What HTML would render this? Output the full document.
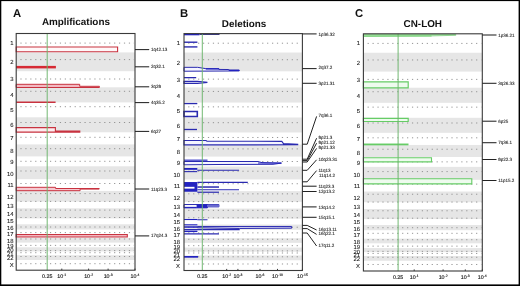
<!DOCTYPE html>
<html><head><meta charset="utf-8"><style>
html,body{margin:0;padding:0;background:#fff;width:520px;height:286px;overflow:hidden}
svg{display:block;will-change:transform}
</style></head><body>
<svg width="520" height="286" viewBox="0 0 520 286" text-rendering="geometricPrecision" font-family='"Liberation Sans", sans-serif'>
<rect width="520" height="286" fill="#fff"/>
<rect x="16.2" y="52.40" width="118.8" height="18.80" fill="#e6e6e6"/>
<rect x="16.2" y="87.30" width="118.8" height="15.10" fill="#e6e6e6"/>
<rect x="16.2" y="117.30" width="118.8" height="15.00" fill="#e6e6e6"/>
<rect x="16.2" y="144.40" width="118.8" height="12.00" fill="#e6e6e6"/>
<rect x="16.2" y="166.30" width="118.8" height="12.90" fill="#e6e6e6"/>
<rect x="16.2" y="190.90" width="118.8" height="10.70" fill="#e6e6e6"/>
<rect x="16.2" y="208.30" width="118.8" height="10.10" fill="#e6e6e6"/>
<rect x="16.2" y="224.30" width="118.8" height="5.20" fill="#e6e6e6"/>
<rect x="16.2" y="237.90" width="118.8" height="4.70" fill="#e6e6e6"/>
<rect x="16.2" y="247.30" width="118.8" height="4.10" fill="#e6e6e6"/>
<rect x="16.2" y="255.20" width="118.8" height="4.80" fill="#e6e6e6"/>
<line x1="20.4" y1="43.10" x2="134.0" y2="43.10" stroke="#8a8a8a" stroke-width="0.9" stroke-dasharray="1.2 3.73"/>
<line x1="20.4" y1="59.60" x2="134.0" y2="59.60" stroke="#8a8a8a" stroke-width="0.9" stroke-dasharray="1.2 3.73"/>
<line x1="20.4" y1="79.00" x2="134.0" y2="79.00" stroke="#8a8a8a" stroke-width="0.9" stroke-dasharray="1.2 3.73"/>
<line x1="20.4" y1="91.30" x2="134.0" y2="91.30" stroke="#8a8a8a" stroke-width="0.9" stroke-dasharray="1.2 3.73"/>
<line x1="20.4" y1="106.70" x2="134.0" y2="106.70" stroke="#8a8a8a" stroke-width="0.9" stroke-dasharray="1.2 3.73"/>
<line x1="20.4" y1="122.50" x2="134.0" y2="122.50" stroke="#8a8a8a" stroke-width="0.9" stroke-dasharray="1.2 3.73"/>
<line x1="20.4" y1="137.30" x2="134.0" y2="137.30" stroke="#8a8a8a" stroke-width="0.9" stroke-dasharray="1.2 3.73"/>
<line x1="20.4" y1="148.70" x2="134.0" y2="148.70" stroke="#8a8a8a" stroke-width="0.9" stroke-dasharray="1.2 3.73"/>
<line x1="20.4" y1="161.30" x2="134.0" y2="161.30" stroke="#8a8a8a" stroke-width="0.9" stroke-dasharray="1.2 3.73"/>
<line x1="20.4" y1="171.00" x2="134.0" y2="171.00" stroke="#8a8a8a" stroke-width="0.9" stroke-dasharray="1.2 3.73"/>
<line x1="20.4" y1="183.50" x2="134.0" y2="183.50" stroke="#8a8a8a" stroke-width="0.9" stroke-dasharray="1.2 3.73"/>
<line x1="20.4" y1="193.60" x2="134.0" y2="193.60" stroke="#8a8a8a" stroke-width="0.9" stroke-dasharray="1.2 3.73"/>
<line x1="20.4" y1="201.40" x2="134.0" y2="201.40" stroke="#8a8a8a" stroke-width="0.9" stroke-dasharray="1.2 3.73"/>
<line x1="20.4" y1="210.10" x2="134.0" y2="210.10" stroke="#8a8a8a" stroke-width="0.9" stroke-dasharray="1.2 3.73"/>
<line x1="20.4" y1="217.50" x2="134.0" y2="217.50" stroke="#8a8a8a" stroke-width="0.9" stroke-dasharray="1.2 3.73"/>
<line x1="20.4" y1="227.00" x2="134.0" y2="227.00" stroke="#8a8a8a" stroke-width="0.9" stroke-dasharray="1.2 3.73"/>
<line x1="20.4" y1="232.60" x2="134.0" y2="232.60" stroke="#8a8a8a" stroke-width="0.9" stroke-dasharray="1.2 3.73"/>
<line x1="20.4" y1="239.00" x2="134.0" y2="239.00" stroke="#8a8a8a" stroke-width="0.9" stroke-dasharray="1.2 3.73"/>
<line x1="20.4" y1="245.40" x2="134.0" y2="245.40" stroke="#8a8a8a" stroke-width="0.9" stroke-dasharray="1.2 3.73"/>
<line x1="20.4" y1="250.60" x2="134.0" y2="250.60" stroke="#8a8a8a" stroke-width="0.9" stroke-dasharray="1.2 3.73"/>
<line x1="20.4" y1="252.70" x2="134.0" y2="252.70" stroke="#8a8a8a" stroke-width="0.9" stroke-dasharray="1.2 3.73"/>
<line x1="20.4" y1="256.50" x2="134.0" y2="256.50" stroke="#8a8a8a" stroke-width="0.9" stroke-dasharray="1.2 3.73"/>
<line x1="20.4" y1="263.70" x2="134.0" y2="263.70" stroke="#8a8a8a" stroke-width="0.9" stroke-dasharray="1.2 3.73"/>
<text x="13.6" y="44.50" text-anchor="end" font-size="5.9" fill="#151515" stroke="#151515" stroke-width="0.08">1</text>
<text x="13.6" y="63.70" text-anchor="end" font-size="5.9" fill="#151515" stroke="#151515" stroke-width="0.08">2</text>
<text x="13.6" y="81.10" text-anchor="end" font-size="5.9" fill="#151515" stroke="#151515" stroke-width="0.08">3</text>
<text x="13.6" y="97.10" text-anchor="end" font-size="5.9" fill="#151515" stroke="#151515" stroke-width="0.08">4</text>
<text x="13.6" y="111.90" text-anchor="end" font-size="5.9" fill="#151515" stroke="#151515" stroke-width="0.08">5</text>
<text x="13.6" y="127.10" text-anchor="end" font-size="5.9" fill="#151515" stroke="#151515" stroke-width="0.08">6</text>
<text x="13.6" y="140.20" text-anchor="end" font-size="5.9" fill="#151515" stroke="#151515" stroke-width="0.08">7</text>
<text x="13.6" y="153.40" text-anchor="end" font-size="5.9" fill="#151515" stroke="#151515" stroke-width="0.08">8</text>
<text x="13.6" y="164.20" text-anchor="end" font-size="5.9" fill="#151515" stroke="#151515" stroke-width="0.08">9</text>
<text x="13.6" y="175.60" text-anchor="end" font-size="5.9" fill="#151515" stroke="#151515" stroke-width="0.08">10</text>
<text x="13.6" y="186.80" text-anchor="end" font-size="5.9" fill="#151515" stroke="#151515" stroke-width="0.08">11</text>
<text x="13.6" y="198.70" text-anchor="end" font-size="5.9" fill="#151515" stroke="#151515" stroke-width="0.08">12</text>
<text x="13.6" y="208.00" text-anchor="end" font-size="5.9" fill="#151515" stroke="#151515" stroke-width="0.08">13</text>
<text x="13.6" y="215.70" text-anchor="end" font-size="5.9" fill="#151515" stroke="#151515" stroke-width="0.08">14</text>
<text x="13.6" y="222.90" text-anchor="end" font-size="5.9" fill="#151515" stroke="#151515" stroke-width="0.08">15</text>
<text x="13.6" y="229.70" text-anchor="end" font-size="5.9" fill="#151515" stroke="#151515" stroke-width="0.08">16</text>
<text x="13.6" y="236.00" text-anchor="end" font-size="5.9" fill="#151515" stroke="#151515" stroke-width="0.08">17</text>
<text x="13.6" y="242.70" text-anchor="end" font-size="5.9" fill="#151515" stroke="#151515" stroke-width="0.08">18</text>
<text x="13.6" y="247.80" text-anchor="end" font-size="5.9" fill="#151515" stroke="#151515" stroke-width="0.08">19</text>
<text x="13.6" y="252.20" text-anchor="end" font-size="5.9" fill="#151515" stroke="#151515" stroke-width="0.08">20</text>
<text x="13.6" y="255.60" text-anchor="end" font-size="5.9" fill="#151515" stroke="#151515" stroke-width="0.08">21</text>
<text x="13.6" y="259.80" text-anchor="end" font-size="5.9" fill="#151515" stroke="#151515" stroke-width="0.08">22</text>
<text x="13.6" y="267.00" text-anchor="end" font-size="5.9" fill="#151515" stroke="#151515" stroke-width="0.08">X</text>
<rect x="184.0" y="52.52" width="118.4" height="18.82" fill="#e6e6e6"/>
<rect x="184.0" y="87.45" width="118.4" height="15.11" fill="#e6e6e6"/>
<rect x="184.0" y="117.47" width="118.4" height="15.01" fill="#e6e6e6"/>
<rect x="184.0" y="144.59" width="118.4" height="12.01" fill="#e6e6e6"/>
<rect x="184.0" y="166.51" width="118.4" height="12.91" fill="#e6e6e6"/>
<rect x="184.0" y="191.13" width="118.4" height="10.71" fill="#e6e6e6"/>
<rect x="184.0" y="208.55" width="118.4" height="10.11" fill="#e6e6e6"/>
<rect x="184.0" y="224.56" width="118.4" height="5.20" fill="#e6e6e6"/>
<rect x="184.0" y="238.17" width="118.4" height="4.70" fill="#e6e6e6"/>
<rect x="184.0" y="247.58" width="118.4" height="4.10" fill="#e6e6e6"/>
<rect x="184.0" y="255.49" width="118.4" height="4.80" fill="#e6e6e6"/>
<line x1="188.2" y1="43.21" x2="301.4" y2="43.21" stroke="#8a8a8a" stroke-width="0.9" stroke-dasharray="1.2 3.73"/>
<line x1="188.2" y1="59.72" x2="301.4" y2="59.72" stroke="#8a8a8a" stroke-width="0.9" stroke-dasharray="1.2 3.73"/>
<line x1="188.2" y1="79.14" x2="301.4" y2="79.14" stroke="#8a8a8a" stroke-width="0.9" stroke-dasharray="1.2 3.73"/>
<line x1="188.2" y1="91.45" x2="301.4" y2="91.45" stroke="#8a8a8a" stroke-width="0.9" stroke-dasharray="1.2 3.73"/>
<line x1="188.2" y1="106.86" x2="301.4" y2="106.86" stroke="#8a8a8a" stroke-width="0.9" stroke-dasharray="1.2 3.73"/>
<line x1="188.2" y1="122.68" x2="301.4" y2="122.68" stroke="#8a8a8a" stroke-width="0.9" stroke-dasharray="1.2 3.73"/>
<line x1="188.2" y1="137.49" x2="301.4" y2="137.49" stroke="#8a8a8a" stroke-width="0.9" stroke-dasharray="1.2 3.73"/>
<line x1="188.2" y1="148.90" x2="301.4" y2="148.90" stroke="#8a8a8a" stroke-width="0.9" stroke-dasharray="1.2 3.73"/>
<line x1="188.2" y1="161.51" x2="301.4" y2="161.51" stroke="#8a8a8a" stroke-width="0.9" stroke-dasharray="1.2 3.73"/>
<line x1="188.2" y1="171.22" x2="301.4" y2="171.22" stroke="#8a8a8a" stroke-width="0.9" stroke-dasharray="1.2 3.73"/>
<line x1="188.2" y1="183.73" x2="301.4" y2="183.73" stroke="#8a8a8a" stroke-width="0.9" stroke-dasharray="1.2 3.73"/>
<line x1="188.2" y1="193.84" x2="301.4" y2="193.84" stroke="#8a8a8a" stroke-width="0.9" stroke-dasharray="1.2 3.73"/>
<line x1="188.2" y1="201.64" x2="301.4" y2="201.64" stroke="#8a8a8a" stroke-width="0.9" stroke-dasharray="1.2 3.73"/>
<line x1="188.2" y1="210.35" x2="301.4" y2="210.35" stroke="#8a8a8a" stroke-width="0.9" stroke-dasharray="1.2 3.73"/>
<line x1="188.2" y1="217.76" x2="301.4" y2="217.76" stroke="#8a8a8a" stroke-width="0.9" stroke-dasharray="1.2 3.73"/>
<line x1="188.2" y1="227.26" x2="301.4" y2="227.26" stroke="#8a8a8a" stroke-width="0.9" stroke-dasharray="1.2 3.73"/>
<line x1="188.2" y1="232.87" x2="301.4" y2="232.87" stroke="#8a8a8a" stroke-width="0.9" stroke-dasharray="1.2 3.73"/>
<line x1="188.2" y1="239.27" x2="301.4" y2="239.27" stroke="#8a8a8a" stroke-width="0.9" stroke-dasharray="1.2 3.73"/>
<line x1="188.2" y1="245.68" x2="301.4" y2="245.68" stroke="#8a8a8a" stroke-width="0.9" stroke-dasharray="1.2 3.73"/>
<line x1="188.2" y1="250.88" x2="301.4" y2="250.88" stroke="#8a8a8a" stroke-width="0.9" stroke-dasharray="1.2 3.73"/>
<line x1="188.2" y1="252.99" x2="301.4" y2="252.99" stroke="#8a8a8a" stroke-width="0.9" stroke-dasharray="1.2 3.73"/>
<line x1="188.2" y1="256.79" x2="301.4" y2="256.79" stroke="#8a8a8a" stroke-width="0.9" stroke-dasharray="1.2 3.73"/>
<line x1="188.2" y1="263.99" x2="301.4" y2="263.99" stroke="#8a8a8a" stroke-width="0.9" stroke-dasharray="1.2 3.73"/>
<text x="180.0" y="45.41" text-anchor="end" font-size="5.9" fill="#151515" stroke="#151515" stroke-width="0.08">1</text>
<text x="180.0" y="64.62" text-anchor="end" font-size="5.9" fill="#151515" stroke="#151515" stroke-width="0.08">2</text>
<text x="180.0" y="82.04" text-anchor="end" font-size="5.9" fill="#151515" stroke="#151515" stroke-width="0.08">3</text>
<text x="180.0" y="98.05" text-anchor="end" font-size="5.9" fill="#151515" stroke="#151515" stroke-width="0.08">4</text>
<text x="180.0" y="112.86" text-anchor="end" font-size="5.9" fill="#151515" stroke="#151515" stroke-width="0.08">5</text>
<text x="180.0" y="128.08" text-anchor="end" font-size="5.9" fill="#151515" stroke="#151515" stroke-width="0.08">6</text>
<text x="180.0" y="141.19" text-anchor="end" font-size="5.9" fill="#151515" stroke="#151515" stroke-width="0.08">7</text>
<text x="180.0" y="154.40" text-anchor="end" font-size="5.9" fill="#151515" stroke="#151515" stroke-width="0.08">8</text>
<text x="180.0" y="165.21" text-anchor="end" font-size="5.9" fill="#151515" stroke="#151515" stroke-width="0.08">9</text>
<text x="180.0" y="176.62" text-anchor="end" font-size="5.9" fill="#151515" stroke="#151515" stroke-width="0.08">10</text>
<text x="180.0" y="187.83" text-anchor="end" font-size="5.9" fill="#151515" stroke="#151515" stroke-width="0.08">11</text>
<text x="180.0" y="199.74" text-anchor="end" font-size="5.9" fill="#151515" stroke="#151515" stroke-width="0.08">12</text>
<text x="180.0" y="209.05" text-anchor="end" font-size="5.9" fill="#151515" stroke="#151515" stroke-width="0.08">13</text>
<text x="180.0" y="216.75" text-anchor="end" font-size="5.9" fill="#151515" stroke="#151515" stroke-width="0.08">14</text>
<text x="180.0" y="223.96" text-anchor="end" font-size="5.9" fill="#151515" stroke="#151515" stroke-width="0.08">15</text>
<text x="180.0" y="230.76" text-anchor="end" font-size="5.9" fill="#151515" stroke="#151515" stroke-width="0.08">16</text>
<text x="180.0" y="237.07" text-anchor="end" font-size="5.9" fill="#151515" stroke="#151515" stroke-width="0.08">17</text>
<text x="180.0" y="243.77" text-anchor="end" font-size="5.9" fill="#151515" stroke="#151515" stroke-width="0.08">18</text>
<text x="180.0" y="248.88" text-anchor="end" font-size="5.9" fill="#151515" stroke="#151515" stroke-width="0.08">19</text>
<text x="180.0" y="253.28" text-anchor="end" font-size="5.9" fill="#151515" stroke="#151515" stroke-width="0.08">20</text>
<text x="180.0" y="256.69" text-anchor="end" font-size="5.9" fill="#151515" stroke="#151515" stroke-width="0.08">21</text>
<text x="180.0" y="260.89" text-anchor="end" font-size="5.9" fill="#151515" stroke="#151515" stroke-width="0.08">22</text>
<text x="180.0" y="268.10" text-anchor="end" font-size="5.9" fill="#151515" stroke="#151515" stroke-width="0.08">X</text>
<rect x="363.4" y="52.74" width="118.9" height="18.84" fill="#e6e6e6"/>
<rect x="363.4" y="87.71" width="118.9" height="15.13" fill="#e6e6e6"/>
<rect x="363.4" y="117.78" width="118.9" height="15.03" fill="#e6e6e6"/>
<rect x="363.4" y="144.93" width="118.9" height="12.03" fill="#e6e6e6"/>
<rect x="363.4" y="166.88" width="118.9" height="12.93" fill="#e6e6e6"/>
<rect x="363.4" y="191.53" width="118.9" height="10.72" fill="#e6e6e6"/>
<rect x="363.4" y="208.97" width="118.9" height="10.12" fill="#e6e6e6"/>
<rect x="363.4" y="225.00" width="118.9" height="5.21" fill="#e6e6e6"/>
<rect x="363.4" y="238.63" width="118.9" height="4.71" fill="#e6e6e6"/>
<rect x="363.4" y="248.05" width="118.9" height="4.11" fill="#e6e6e6"/>
<rect x="363.4" y="255.97" width="118.9" height="4.81" fill="#e6e6e6"/>
<line x1="367.6" y1="43.42" x2="481.3" y2="43.42" stroke="#8a8a8a" stroke-width="0.9" stroke-dasharray="1.2 3.73"/>
<line x1="367.6" y1="59.96" x2="481.3" y2="59.96" stroke="#8a8a8a" stroke-width="0.9" stroke-dasharray="1.2 3.73"/>
<line x1="367.6" y1="79.40" x2="481.3" y2="79.40" stroke="#8a8a8a" stroke-width="0.9" stroke-dasharray="1.2 3.73"/>
<line x1="367.6" y1="91.72" x2="481.3" y2="91.72" stroke="#8a8a8a" stroke-width="0.9" stroke-dasharray="1.2 3.73"/>
<line x1="367.6" y1="107.15" x2="481.3" y2="107.15" stroke="#8a8a8a" stroke-width="0.9" stroke-dasharray="1.2 3.73"/>
<line x1="367.6" y1="122.99" x2="481.3" y2="122.99" stroke="#8a8a8a" stroke-width="0.9" stroke-dasharray="1.2 3.73"/>
<line x1="367.6" y1="137.82" x2="481.3" y2="137.82" stroke="#8a8a8a" stroke-width="0.9" stroke-dasharray="1.2 3.73"/>
<line x1="367.6" y1="149.24" x2="481.3" y2="149.24" stroke="#8a8a8a" stroke-width="0.9" stroke-dasharray="1.2 3.73"/>
<line x1="367.6" y1="161.87" x2="481.3" y2="161.87" stroke="#8a8a8a" stroke-width="0.9" stroke-dasharray="1.2 3.73"/>
<line x1="367.6" y1="171.59" x2="481.3" y2="171.59" stroke="#8a8a8a" stroke-width="0.9" stroke-dasharray="1.2 3.73"/>
<line x1="367.6" y1="184.12" x2="481.3" y2="184.12" stroke="#8a8a8a" stroke-width="0.9" stroke-dasharray="1.2 3.73"/>
<line x1="367.6" y1="194.24" x2="481.3" y2="194.24" stroke="#8a8a8a" stroke-width="0.9" stroke-dasharray="1.2 3.73"/>
<line x1="367.6" y1="202.05" x2="481.3" y2="202.05" stroke="#8a8a8a" stroke-width="0.9" stroke-dasharray="1.2 3.73"/>
<line x1="367.6" y1="210.77" x2="481.3" y2="210.77" stroke="#8a8a8a" stroke-width="0.9" stroke-dasharray="1.2 3.73"/>
<line x1="367.6" y1="218.19" x2="481.3" y2="218.19" stroke="#8a8a8a" stroke-width="0.9" stroke-dasharray="1.2 3.73"/>
<line x1="367.6" y1="227.71" x2="481.3" y2="227.71" stroke="#8a8a8a" stroke-width="0.9" stroke-dasharray="1.2 3.73"/>
<line x1="367.6" y1="233.32" x2="481.3" y2="233.32" stroke="#8a8a8a" stroke-width="0.9" stroke-dasharray="1.2 3.73"/>
<line x1="367.6" y1="239.73" x2="481.3" y2="239.73" stroke="#8a8a8a" stroke-width="0.9" stroke-dasharray="1.2 3.73"/>
<line x1="367.6" y1="246.15" x2="481.3" y2="246.15" stroke="#8a8a8a" stroke-width="0.9" stroke-dasharray="1.2 3.73"/>
<line x1="367.6" y1="251.36" x2="481.3" y2="251.36" stroke="#8a8a8a" stroke-width="0.9" stroke-dasharray="1.2 3.73"/>
<line x1="367.6" y1="253.46" x2="481.3" y2="253.46" stroke="#8a8a8a" stroke-width="0.9" stroke-dasharray="1.2 3.73"/>
<line x1="367.6" y1="257.27" x2="481.3" y2="257.27" stroke="#8a8a8a" stroke-width="0.9" stroke-dasharray="1.2 3.73"/>
<line x1="367.6" y1="264.49" x2="481.3" y2="264.49" stroke="#8a8a8a" stroke-width="0.9" stroke-dasharray="1.2 3.73"/>
<text x="360.0" y="45.42" text-anchor="end" font-size="5.9" fill="#151515" stroke="#151515" stroke-width="0.08">1</text>
<text x="360.0" y="64.66" text-anchor="end" font-size="5.9" fill="#151515" stroke="#151515" stroke-width="0.08">2</text>
<text x="360.0" y="82.10" text-anchor="end" font-size="5.9" fill="#151515" stroke="#151515" stroke-width="0.08">3</text>
<text x="360.0" y="98.13" text-anchor="end" font-size="5.9" fill="#151515" stroke="#151515" stroke-width="0.08">4</text>
<text x="360.0" y="112.96" text-anchor="end" font-size="5.9" fill="#151515" stroke="#151515" stroke-width="0.08">5</text>
<text x="360.0" y="128.19" text-anchor="end" font-size="5.9" fill="#151515" stroke="#151515" stroke-width="0.08">6</text>
<text x="360.0" y="141.32" text-anchor="end" font-size="5.9" fill="#151515" stroke="#151515" stroke-width="0.08">7</text>
<text x="360.0" y="154.55" text-anchor="end" font-size="5.9" fill="#151515" stroke="#151515" stroke-width="0.08">8</text>
<text x="360.0" y="165.37" text-anchor="end" font-size="5.9" fill="#151515" stroke="#151515" stroke-width="0.08">9</text>
<text x="360.0" y="176.80" text-anchor="end" font-size="5.9" fill="#151515" stroke="#151515" stroke-width="0.08">10</text>
<text x="360.0" y="188.02" text-anchor="end" font-size="5.9" fill="#151515" stroke="#151515" stroke-width="0.08">11</text>
<text x="360.0" y="199.94" text-anchor="end" font-size="5.9" fill="#151515" stroke="#151515" stroke-width="0.08">12</text>
<text x="360.0" y="209.26" text-anchor="end" font-size="5.9" fill="#151515" stroke="#151515" stroke-width="0.08">13</text>
<text x="360.0" y="216.98" text-anchor="end" font-size="5.9" fill="#151515" stroke="#151515" stroke-width="0.08">14</text>
<text x="360.0" y="224.20" text-anchor="end" font-size="5.9" fill="#151515" stroke="#151515" stroke-width="0.08">15</text>
<text x="360.0" y="231.01" text-anchor="end" font-size="5.9" fill="#151515" stroke="#151515" stroke-width="0.08">16</text>
<text x="360.0" y="237.32" text-anchor="end" font-size="5.9" fill="#151515" stroke="#151515" stroke-width="0.08">17</text>
<text x="360.0" y="244.04" text-anchor="end" font-size="5.9" fill="#151515" stroke="#151515" stroke-width="0.08">18</text>
<text x="360.0" y="249.15" text-anchor="end" font-size="5.9" fill="#151515" stroke="#151515" stroke-width="0.08">19</text>
<text x="360.0" y="253.56" text-anchor="end" font-size="5.9" fill="#151515" stroke="#151515" stroke-width="0.08">20</text>
<text x="360.0" y="256.96" text-anchor="end" font-size="5.9" fill="#151515" stroke="#151515" stroke-width="0.08">21</text>
<text x="360.0" y="261.17" text-anchor="end" font-size="5.9" fill="#151515" stroke="#151515" stroke-width="0.08">22</text>
<text x="360.0" y="268.39" text-anchor="end" font-size="5.9" fill="#151515" stroke="#151515" stroke-width="0.08">X</text>
<polygon points="16.2,47.00 117.6,47.00 117.6,51.70 16.2,51.70" fill="#fff8f9" stroke="#c8323f" stroke-width="1.1" stroke-linejoin="miter"/>
<rect x="16.2" y="65.90" width="39.7" height="2.50" fill="#d62a34"/>
<polygon points="16.2,84.30 79.7,84.30 79.7,86.30 99.4,86.30 99.4,87.50 16.2,87.50" fill="#f3bac3" stroke="#c8323f" stroke-width="1.0" stroke-linejoin="miter"/>
<line x1="16.2" y1="102.30" x2="55.6" y2="102.30" stroke="#c8323f" stroke-width="1.4"/>
<polygon points="16.2,127.60 55.4,127.60 55.4,131.10 79.8,131.10 79.8,132.10 16.2,132.10" fill="#fcecef" stroke="#c8323f" stroke-width="1.1" stroke-linejoin="miter"/>
<polygon points="16.2,187.30 55.6,187.30 55.6,188.50 99.2,188.50 99.2,189.10 80.1,189.10 80.1,190.70 16.2,190.70" fill="#f6c9d0" stroke="#c8323f" stroke-width="1.0" stroke-linejoin="miter"/>
<polygon points="16.2,234.50 127.3,234.50 127.3,237.00 16.2,237.00" fill="#f3b9c2" stroke="#c8323f" stroke-width="1.1" stroke-linejoin="miter"/>
<rect x="184.0" y="33.70" width="15.5" height="1.60" fill="#2222c0"/>
<line x1="199.5" y1="34.40" x2="219.5" y2="34.40" stroke="#30307a" stroke-width="1.1"/>
<line x1="184.0" y1="42.21" x2="197.4" y2="42.21" stroke="#2a2ab0" stroke-width="1.4"/>
<line x1="184.0" y1="46.91" x2="197.4" y2="46.91" stroke="#2a2ab0" stroke-width="1.4"/>
<polygon points="184.0,67.33 197.7,67.33 205.8,68.63 219.0,68.73 219.0,69.43 228.8,69.53 228.8,70.03 239.2,70.03 239.2,70.93 184.0,71.23" fill="#f4f4ff" stroke="#2a2ab0" stroke-width="1.0" stroke-linejoin="miter"/>
<rect x="205.8" y="68.33" width="13.2" height="1.20" fill="#2222c0"/>
<rect x="228.8" y="69.93" width="10.4" height="1.10" fill="#2222c0"/>
<line x1="184.0" y1="77.64" x2="196.2" y2="77.64" stroke="#2a2ab0" stroke-width="1.3"/>
<polygon points="184.0,81.44 197.4,81.44 207.4,82.34 197.4,83.34 184.0,83.34" fill="#f4f4ff" stroke="#2a2ab0" stroke-width="1.2" stroke-linejoin="miter"/>
<line x1="184.0" y1="103.56" x2="197.3" y2="103.56" stroke="#2a2ab0" stroke-width="1.3"/>
<polygon points="184.0,111.47 197.3,111.47 197.3,116.47 184.0,116.47" fill="#fff" stroke="#2a2ab0" stroke-width="1.6" stroke-linejoin="miter"/>
<line x1="184.0" y1="129.48" x2="197.0" y2="129.48" stroke="#2a2ab0" stroke-width="1.3"/>
<polygon points="184.0,140.49 206.0,140.49 207.0,141.19 281.8,141.39 283.5,143.59 297.7,144.19 297.7,144.79 184.0,144.89" fill="#f4f4ff" stroke="#2a2ab0" stroke-width="1.1" stroke-linejoin="miter"/>
<rect x="184.0" y="159.61" width="23.5" height="1.10" fill="#2222c0"/>
<polygon points="184.0,161.51 258.0,161.51 262.0,162.61 281.4,163.11 273.0,164.31 218.0,164.51 184.0,164.81" fill="#f4f4ff" stroke="#2a2ab0" stroke-width="1.0" stroke-linejoin="miter"/>
<rect x="258.0" y="162.61" width="23.4" height="0.90" fill="#2222c0"/>
<rect x="184.0" y="168.01" width="13.3" height="1.80" fill="#2222c0"/>
<line x1="197.3" y1="170.22" x2="239.1" y2="170.22" stroke="#2a2ab0" stroke-width="1.1"/>
<line x1="184.0" y1="171.62" x2="197.3" y2="171.62" stroke="#2a2ab0" stroke-width="1.1"/>
<rect x="184.0" y="182.03" width="13.4" height="9.71" fill="#2222c0"/>
<rect x="184.0" y="186.83" width="10.5" height="1.80" fill="#fff"/>
<line x1="197.4" y1="182.33" x2="247.8" y2="182.33" stroke="#2a2ab0" stroke-width="1.1"/>
<line x1="197.4" y1="187.03" x2="219.0" y2="187.03" stroke="#2a2ab0" stroke-width="1.5"/>
<line x1="197.4" y1="189.73" x2="239.0" y2="189.73" stroke="#2a2ab0" stroke-width="1.1"/>
<line x1="197.4" y1="192.23" x2="219.0" y2="192.23" stroke="#2a2ab0" stroke-width="1.2"/>
<polygon points="184.0,204.54 218.9,204.54 218.9,206.85 207.4,206.85 207.4,207.85 184.0,207.85" fill="#fff" stroke="#2a2ab0" stroke-width="1.0" stroke-linejoin="miter"/>
<rect x="207.4" y="204.54" width="11.5" height="2.30" fill="#6a6ad0"/>
<rect x="196.6" y="204.24" width="10.8" height="3.70" fill="#2222c0"/>
<rect x="184.0" y="206.85" width="12.6" height="1.20" fill="#2222c0"/>
<rect x="184.0" y="218.96" width="13.4" height="1.10" fill="#2222c0"/>
<line x1="197.4" y1="219.76" x2="207.5" y2="219.76" stroke="#2a2ab0" stroke-width="1.0"/>
<rect x="184.0" y="224.26" width="13.4" height="1.10" fill="#2222c0"/>
<rect x="184.0" y="226.26" width="13.4" height="1.50" fill="#2222c0"/>
<polygon points="197.4,226.46 291.7,226.46 291.7,228.16 239.7,228.46 197.4,227.76" fill="#d8d8f4" stroke="#2a2ab0" stroke-width="1.0" stroke-linejoin="miter"/>
<line x1="184.0" y1="229.67" x2="239.7" y2="229.67" stroke="#2a2ab0" stroke-width="1.1"/>
<rect x="184.0" y="230.67" width="13.4" height="1.40" fill="#2222c0"/>
<line x1="184.0" y1="233.87" x2="219.0" y2="233.87" stroke="#2a2ab0" stroke-width="1.2"/>
<rect x="184.0" y="255.99" width="14.0" height="1.70" fill="#2222c0"/>
<polygon points="363.4,34.50 455.8,34.50 455.8,35.30 431.6,35.90 363.4,36.31" fill="#c8efc8" stroke="#7ccf7c" stroke-width="0.8" stroke-linejoin="miter"/>
<line x1="363.4" y1="36.00" x2="431.6" y2="36.00" stroke="#66cc66" stroke-width="0.9"/>
<polygon points="363.4,81.80 408.2,81.80 408.2,87.81 363.4,87.81" fill="#eefbee" stroke="#66cc66" stroke-width="1.2" stroke-linejoin="miter"/>
<polygon points="363.4,118.28 408.2,118.28 408.2,121.48 363.4,121.48" fill="#eefbee" stroke="#66cc66" stroke-width="1.2" stroke-linejoin="miter"/>
<rect x="363.4" y="143.53" width="45.1" height="1.80" fill="#66cc66"/>
<polygon points="363.4,157.76 431.5,157.76 431.5,161.87 363.4,161.87" fill="#eefbee" stroke="#66cc66" stroke-width="1.1" stroke-linejoin="miter"/>
<polygon points="363.4,178.81 471.8,178.81 471.8,183.92 363.4,183.92" fill="#eefbee" stroke="#66cc66" stroke-width="1.1" stroke-linejoin="miter"/>
<line x1="47.2" y1="33.5" x2="47.2" y2="270.2" stroke="#6cb56c" stroke-width="0.95"/>
<rect x="16.2" y="33.5" width="118.8" height="236.7" fill="none" stroke="#3a3a3a" stroke-width="1.1"/>
<text x="47.2" y="277.9" text-anchor="middle" font-size="5.3" fill="#222" stroke="#222" stroke-width="0.15">0.25</text>
<line x1="61.8" y1="268.6" x2="61.8" y2="270.2" stroke="#3a3a3a" stroke-width="1"/>
<text x="61.8" y="277.9" text-anchor="middle" font-size="5.3" fill="#222" stroke="#222" stroke-width="0.15">10<tspan font-size="3.4" dy="-2.1">-1</tspan></text>
<line x1="88.6" y1="268.6" x2="88.6" y2="270.2" stroke="#3a3a3a" stroke-width="1"/>
<text x="88.6" y="277.9" text-anchor="middle" font-size="5.3" fill="#222" stroke="#222" stroke-width="0.15">10<tspan font-size="3.4" dy="-2.1">-2</tspan></text>
<line x1="108.1" y1="268.6" x2="108.1" y2="270.2" stroke="#3a3a3a" stroke-width="1"/>
<text x="108.1" y="277.9" text-anchor="middle" font-size="5.3" fill="#222" stroke="#222" stroke-width="0.15">10<tspan font-size="3.4" dy="-2.1">-3</tspan></text>
<line x1="135.0" y1="268.6" x2="135.0" y2="270.2" stroke="#3a3a3a" stroke-width="1"/>
<text x="135.0" y="277.9" text-anchor="middle" font-size="5.3" fill="#222" stroke="#222" stroke-width="0.15">10<tspan font-size="3.4" dy="-2.1">-4</tspan></text>
<line x1="202.3" y1="33.6" x2="202.3" y2="270.5" stroke="#6cb56c" stroke-width="0.95"/>
<rect x="184.0" y="33.6" width="118.4" height="236.9" fill="none" stroke="#3a3a3a" stroke-width="1.1"/>
<text x="202.3" y="278.2" text-anchor="middle" font-size="5.3" fill="#222" stroke="#222" stroke-width="0.15">0.25</text>
<line x1="226.7" y1="268.9" x2="226.7" y2="270.5" stroke="#3a3a3a" stroke-width="1"/>
<text x="226.7" y="278.2" text-anchor="middle" font-size="5.3" fill="#222" stroke="#222" stroke-width="0.15">10<tspan font-size="3.4" dy="-2.1">-2</tspan></text>
<line x1="237.9" y1="268.9" x2="237.9" y2="270.5" stroke="#3a3a3a" stroke-width="1"/>
<text x="237.9" y="278.2" text-anchor="middle" font-size="5.3" fill="#222" stroke="#222" stroke-width="0.15">10<tspan font-size="3.4" dy="-2.1">-3</tspan></text>
<line x1="260.0" y1="268.9" x2="260.0" y2="270.5" stroke="#3a3a3a" stroke-width="1"/>
<text x="260.0" y="278.2" text-anchor="middle" font-size="5.3" fill="#222" stroke="#222" stroke-width="0.15">10<tspan font-size="3.4" dy="-2.1">-6</tspan></text>
<line x1="277.5" y1="268.9" x2="277.5" y2="270.5" stroke="#3a3a3a" stroke-width="1"/>
<text x="277.5" y="278.2" text-anchor="middle" font-size="5.3" fill="#222" stroke="#222" stroke-width="0.15">10<tspan font-size="3.4" dy="-2.1">-10</tspan></text>
<line x1="302.4" y1="268.9" x2="302.4" y2="270.5" stroke="#3a3a3a" stroke-width="1"/>
<text x="302.4" y="278.2" text-anchor="middle" font-size="5.3" fill="#222" stroke="#222" stroke-width="0.15">10<tspan font-size="3.4" dy="-2.1">-15</tspan></text>
<line x1="398.1" y1="33.8" x2="398.1" y2="271.0" stroke="#6cb56c" stroke-width="0.95"/>
<rect x="363.4" y="33.8" width="118.9" height="237.2" fill="none" stroke="#3a3a3a" stroke-width="1.1"/>
<text x="398.1" y="278.7" text-anchor="middle" font-size="5.3" fill="#222" stroke="#222" stroke-width="0.15">0.25</text>
<line x1="414.2" y1="269.4" x2="414.2" y2="271.0" stroke="#3a3a3a" stroke-width="1"/>
<text x="414.2" y="278.7" text-anchor="middle" font-size="5.3" fill="#222" stroke="#222" stroke-width="0.15">10<tspan font-size="3.4" dy="-2.1">-1</tspan></text>
<line x1="443.1" y1="269.4" x2="443.1" y2="271.0" stroke="#3a3a3a" stroke-width="1"/>
<text x="443.1" y="278.7" text-anchor="middle" font-size="5.3" fill="#222" stroke="#222" stroke-width="0.15">10<tspan font-size="3.4" dy="-2.1">-2</tspan></text>
<line x1="465.3" y1="269.4" x2="465.3" y2="271.0" stroke="#3a3a3a" stroke-width="1"/>
<text x="465.3" y="278.7" text-anchor="middle" font-size="5.3" fill="#222" stroke="#222" stroke-width="0.15">10<tspan font-size="3.4" dy="-2.1">-3</tspan></text>
<line x1="482.3" y1="269.4" x2="482.3" y2="271.0" stroke="#3a3a3a" stroke-width="1"/>
<text x="482.3" y="278.7" text-anchor="middle" font-size="5.3" fill="#222" stroke="#222" stroke-width="0.15">10<tspan font-size="3.4" dy="-2.1">-4</tspan></text>
<line x1="135.0" y1="49.6" x2="149.2" y2="49.6" stroke="#222" stroke-width="1.05"/>
<text x="151.0" y="51.10" font-size="4.5" fill="#2a2a2a" stroke="#2a2a2a" stroke-width="0.1">1q42.13</text>
<line x1="135.0" y1="66.8" x2="149.2" y2="66.8" stroke="#222" stroke-width="1.05"/>
<text x="151.0" y="68.30" font-size="4.5" fill="#2a2a2a" stroke="#2a2a2a" stroke-width="0.1">2q32.1</text>
<line x1="135.0" y1="86.8" x2="149.2" y2="86.8" stroke="#222" stroke-width="1.05"/>
<text x="151.0" y="88.30" font-size="4.5" fill="#2a2a2a" stroke="#2a2a2a" stroke-width="0.1">3q29</text>
<line x1="135.0" y1="102.6" x2="149.2" y2="102.6" stroke="#222" stroke-width="1.05"/>
<text x="151.0" y="104.10" font-size="4.5" fill="#2a2a2a" stroke="#2a2a2a" stroke-width="0.1">4q35.2</text>
<line x1="135.0" y1="131.4" x2="149.2" y2="131.4" stroke="#222" stroke-width="1.05"/>
<text x="151.0" y="132.90" font-size="4.5" fill="#2a2a2a" stroke="#2a2a2a" stroke-width="0.1">6q27</text>
<line x1="135.0" y1="189.0" x2="149.2" y2="189.0" stroke="#222" stroke-width="1.05"/>
<text x="151.0" y="190.50" font-size="4.5" fill="#2a2a2a" stroke="#2a2a2a" stroke-width="0.1">11q23.3</text>
<line x1="135.0" y1="235.9" x2="149.2" y2="235.9" stroke="#222" stroke-width="1.05"/>
<text x="151.0" y="237.40" font-size="4.5" fill="#2a2a2a" stroke="#2a2a2a" stroke-width="0.1">17q24.3</text>
<line x1="302.4" y1="33.9" x2="316.59999999999997" y2="33.9" stroke="#222" stroke-width="1.05"/>
<text x="318.4" y="36.10" font-size="4.5" fill="#2a2a2a" stroke="#2a2a2a" stroke-width="0.1">1p36.32</text>
<line x1="302.4" y1="68.6" x2="316.59999999999997" y2="68.6" stroke="#222" stroke-width="1.05"/>
<text x="318.4" y="69.10" font-size="4.5" fill="#2a2a2a" stroke="#2a2a2a" stroke-width="0.1">2q37.2</text>
<line x1="302.4" y1="83.3" x2="316.59999999999997" y2="83.3" stroke="#222" stroke-width="1.05"/>
<text x="318.4" y="84.50" font-size="4.5" fill="#2a2a2a" stroke="#2a2a2a" stroke-width="0.1">3p21.31</text>
<polyline points="302.4,144.2 307.2,144.2 316.59999999999997,116.39999999999999" fill="none" stroke="#222" stroke-width="1.0"/>
<text x="318.4" y="117.30" font-size="4.5" fill="#2a2a2a" stroke="#2a2a2a" stroke-width="0.1">7q36.1</text>
<polyline points="302.4,159.2 307.2,159.2 316.59999999999997,138.2" fill="none" stroke="#222" stroke-width="1.0"/>
<text x="318.4" y="139.10" font-size="4.5" fill="#2a2a2a" stroke="#2a2a2a" stroke-width="0.1">9p21.3</text>
<polyline points="302.4,160.6 307.2,160.6 316.59999999999997,143.2" fill="none" stroke="#222" stroke-width="1.0"/>
<text x="318.4" y="144.10" font-size="4.5" fill="#2a2a2a" stroke="#2a2a2a" stroke-width="0.1">9p21.12</text>
<polyline points="302.4,162.0 307.2,162.0 316.59999999999997,148.4" fill="none" stroke="#222" stroke-width="1.0"/>
<text x="318.4" y="149.30" font-size="4.5" fill="#2a2a2a" stroke="#2a2a2a" stroke-width="0.1">9p21.33</text>
<polyline points="302.4,170.3 307.2,170.3 316.59999999999997,159.79999999999998" fill="none" stroke="#222" stroke-width="1.0"/>
<text x="318.4" y="160.70" font-size="4.5" fill="#2a2a2a" stroke="#2a2a2a" stroke-width="0.1">10q23.31</text>
<polyline points="302.4,181.8 307.2,181.8 316.59999999999997,170.6" fill="none" stroke="#222" stroke-width="1.0"/>
<text x="318.4" y="171.50" font-size="4.5" fill="#2a2a2a" stroke="#2a2a2a" stroke-width="0.1">11q13</text>
<text x="319.0" y="177.0" font-size="4.5" fill="#2a2a2a" stroke="#2a2a2a" stroke-width="0.1">11q14.2</text>
<line x1="302.4" y1="186.2" x2="316.59999999999997" y2="186.2" stroke="#222" stroke-width="1.05"/>
<text x="318.4" y="187.70" font-size="4.5" fill="#2a2a2a" stroke="#2a2a2a" stroke-width="0.1">11q23.3</text>
<line x1="302.4" y1="191.5" x2="316.59999999999997" y2="191.5" stroke="#222" stroke-width="1.05"/>
<text x="318.4" y="192.70" font-size="4.5" fill="#2a2a2a" stroke="#2a2a2a" stroke-width="0.1">12p13.2</text>
<line x1="302.4" y1="206.9" x2="316.59999999999997" y2="206.9" stroke="#222" stroke-width="1.05"/>
<text x="318.4" y="208.70" font-size="4.5" fill="#2a2a2a" stroke="#2a2a2a" stroke-width="0.1">13q14.2</text>
<line x1="302.4" y1="217.3" x2="316.59999999999997" y2="217.3" stroke="#222" stroke-width="1.05"/>
<text x="318.4" y="219.30" font-size="4.5" fill="#2a2a2a" stroke="#2a2a2a" stroke-width="0.1">15q15.1</text>
<polyline points="302.4,225.4 307.2,225.4 316.59999999999997,230.0" fill="none" stroke="#222" stroke-width="1.0"/>
<text x="318.4" y="230.90" font-size="4.5" fill="#2a2a2a" stroke="#2a2a2a" stroke-width="0.1">16p13.11</text>
<polyline points="302.4,228.6 307.2,228.6 316.59999999999997,234.4" fill="none" stroke="#222" stroke-width="1.0"/>
<text x="318.4" y="235.30" font-size="4.5" fill="#2a2a2a" stroke="#2a2a2a" stroke-width="0.1">16q22.1</text>
<polyline points="302.4,233.0 307.2,233.0 316.59999999999997,246.0" fill="none" stroke="#222" stroke-width="1.0"/>
<text x="318.4" y="246.90" font-size="4.5" fill="#2a2a2a" stroke="#2a2a2a" stroke-width="0.1">17q11.2</text>
<line x1="482.3" y1="35.0" x2="496.5" y2="35.0" stroke="#222" stroke-width="1.05"/>
<text x="498.3" y="36.50" font-size="4.5" fill="#2a2a2a" stroke="#2a2a2a" stroke-width="0.1">1p36.21</text>
<line x1="482.3" y1="83.3" x2="496.5" y2="83.3" stroke="#222" stroke-width="1.05"/>
<text x="498.3" y="84.80" font-size="4.5" fill="#2a2a2a" stroke="#2a2a2a" stroke-width="0.1">3q26.33</text>
<line x1="482.3" y1="121.2" x2="496.5" y2="121.2" stroke="#222" stroke-width="1.05"/>
<text x="498.3" y="122.70" font-size="4.5" fill="#2a2a2a" stroke="#2a2a2a" stroke-width="0.1">6p25</text>
<line x1="482.3" y1="142.7" x2="496.5" y2="142.7" stroke="#222" stroke-width="1.05"/>
<text x="498.3" y="144.20" font-size="4.5" fill="#2a2a2a" stroke="#2a2a2a" stroke-width="0.1">7q36.1</text>
<line x1="482.3" y1="159.5" x2="496.5" y2="159.5" stroke="#222" stroke-width="1.05"/>
<text x="498.3" y="161.00" font-size="4.5" fill="#2a2a2a" stroke="#2a2a2a" stroke-width="0.1">9p22.3</text>
<line x1="482.3" y1="180.5" x2="496.5" y2="180.5" stroke="#222" stroke-width="1.05"/>
<text x="498.3" y="182.00" font-size="4.5" fill="#2a2a2a" stroke="#2a2a2a" stroke-width="0.1">11p15.2</text>
<text x="13.0" y="16.7" font-size="11.3" font-weight="bold" fill="#111">A</text>
<text x="180.0" y="16.7" font-size="11.3" font-weight="bold" fill="#111">B</text>
<text x="354.9" y="17.0" font-size="11.3" font-weight="bold" fill="#111">C</text>
<text x="41.9" y="24.7" font-size="9.9" font-weight="bold" fill="#111">Amplifications</text>
<text x="221.8" y="26.5" font-size="9.9" font-weight="bold" fill="#111">Deletions</text>
<text x="403.6" y="26.5" font-size="9.9" font-weight="bold" fill="#111">CN-LOH</text>
<rect x="0" y="0" width="1.3" height="286" fill="#000"/>
<rect x="0" y="0" width="520" height="1.1" fill="#000"/>
<rect x="518.6" y="0" width="1.4" height="286" fill="#000"/>
<rect x="0" y="284.4" width="520" height="1.6" fill="#000"/>
</svg>
</body></html>
